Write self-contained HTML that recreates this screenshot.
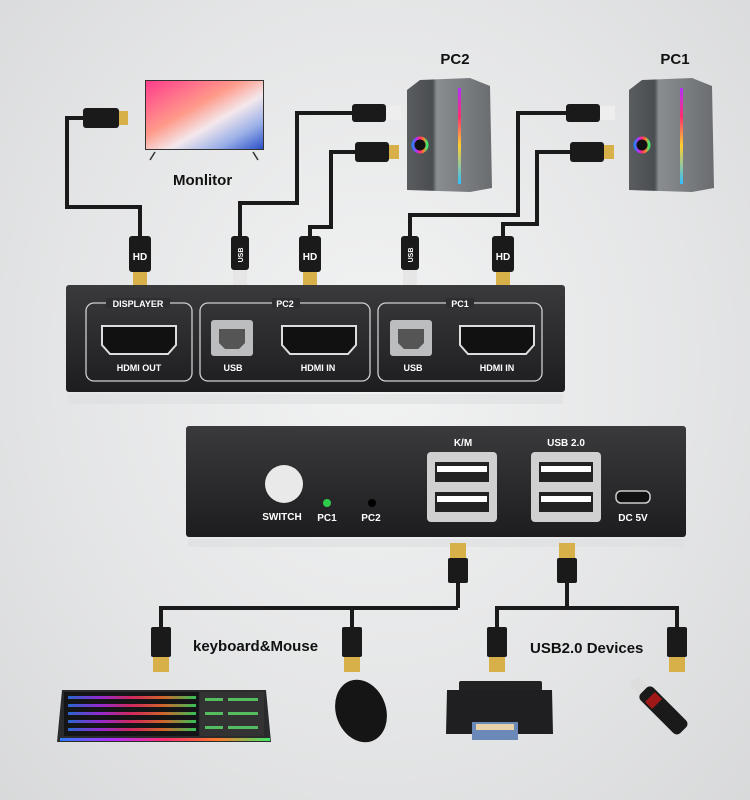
<!DOCTYPE html>
<html><head><meta charset="utf-8"><style>
html,body{margin:0;padding:0;}
body{width:750px;height:800px;overflow:hidden;background:radial-gradient(ellipse at 50% 45%,#f2f3f3 0%,#e4e5e6 60%,#d8d9da 100%);font-family:"Liberation Sans",sans-serif;}
svg{display:block}
</style></head><body>
<svg width="750" height="800" viewBox="0 0 750 800" xmlns="http://www.w3.org/2000/svg" font-family="Liberation Sans, sans-serif">
<defs>
<linearGradient id="scr" x1="0" y1="0" x2="1" y2="1"><stop offset="0" stop-color="#ff3c8c"/><stop offset="0.4" stop-color="#ff9a8a"/><stop offset="0.6" stop-color="#f4e8ec"/><stop offset="0.8" stop-color="#9bb0e8"/><stop offset="1" stop-color="#2a50c8"/></linearGradient>
<linearGradient id="tower" x1="0" y1="0" x2="1" y2="0"><stop offset="0" stop-color="#5a5d60"/><stop offset="0.3" stop-color="#4a4d50"/><stop offset="0.35" stop-color="#8a8d90"/><stop offset="1" stop-color="#6a6d70"/></linearGradient>
<linearGradient id="box" x1="0" y1="0" x2="0" y2="1"><stop offset="0" stop-color="#3a3a3c"/><stop offset="1" stop-color="#1d1d1f"/></linearGradient>
<linearGradient id="rgb" x1="0" y1="0" x2="1" y2="0"><stop offset="0" stop-color="#2e7cff"/><stop offset="0.25" stop-color="#b42eff"/><stop offset="0.5" stop-color="#ff2e6e"/><stop offset="0.75" stop-color="#ff7a2e"/><stop offset="1" stop-color="#3eea6a"/></linearGradient>
<linearGradient id="rgbv" x1="0" y1="0" x2="0" y2="1"><stop offset="0" stop-color="#b42eff"/><stop offset="0.3" stop-color="#ff2e6e"/><stop offset="0.6" stop-color="#ffd02e"/><stop offset="1" stop-color="#2ec0ff"/></linearGradient>
<g id="hdmi"><rect x="-11" y="0" width="22" height="36" rx="3" fill="#1a1a1a"/><rect x="-7" y="36" width="14" height="13" fill="#d8b04a"/><text x="0" y="24" font-size="10" font-weight="bold" fill="#fff" text-anchor="middle">HD</text></g>
<g id="usbc"><rect x="-9" y="0" width="18" height="34" rx="3" fill="#1a1a1a"/><rect x="-7" y="34" width="14" height="16" fill="#e6e6e6"/><text x="0" y="22" font-size="7" font-weight="bold" fill="#fff" text-anchor="middle" transform="rotate(-90 0 19)">USB</text></g>
<g id="usbA"><rect x="-8" y="0" width="16" height="15" fill="#d8b04a"/><rect x="-10" y="15" width="20" height="25" rx="2" fill="#1a1a1a"/></g>
<g id="usbAu"><rect x="-8" y="30" width="16" height="15" fill="#d8b04a"/><rect x="-10" y="0" width="20" height="30" rx="2" fill="#1a1a1a"/></g>
</defs>

<g fill="none" stroke="#1a1a1a" stroke-width="4">
<path d="M140,236 V207 H67 V118 H85"/>
<path d="M240,236 V203 H297 V113 H352"/>
<path d="M310,236 V227 H331 V152 H355"/>
<path d="M410,236 V215 H518 V113 H570"/>
<path d="M503,236 V224 H537 V152 H570"/>
</g>
<rect x="83" y="108" width="36" height="20" rx="3" fill="#1a1a1a"/><rect x="119" y="111" width="9" height="14" fill="#d8b04a"/>
<rect x="352" y="104" width="34" height="18" rx="3" fill="#1a1a1a"/><rect x="386" y="106" width="15" height="14" fill="#eee"/>
<rect x="355" y="142" width="34" height="20" rx="3" fill="#1a1a1a"/><rect x="389" y="145" width="10" height="14" fill="#d8b04a"/>
<rect x="566" y="104" width="34" height="18" rx="3" fill="#1a1a1a"/><rect x="600" y="106" width="15" height="14" fill="#eee"/>
<rect x="570" y="142" width="34" height="20" rx="3" fill="#1a1a1a"/><rect x="604" y="145" width="10" height="14" fill="#d8b04a"/>
<use href="#hdmi" x="140" y="236"/>
<use href="#usbc" x="240" y="236"/>
<use href="#hdmi" x="310" y="236"/>
<use href="#usbc" x="410" y="236"/>
<use href="#hdmi" x="503" y="236"/>

<rect x="145" y="80" width="119" height="70" fill="#333"/>
<rect x="146" y="81" width="117" height="68" fill="url(#scr)"/>
<path d="M150,160 L155,152 M258,160 L253,152" stroke="#333" stroke-width="1.5"/>
<text x="173" y="185" font-size="15" font-weight="bold" fill="#111">Monlitor</text>

<text x="455" y="64" font-size="15" font-weight="bold" fill="#111" text-anchor="middle">PC2</text>
<path d="M407,90 L420,80 L470,78 L490,86 L492,188 L470,192 L407,190 Z" fill="url(#tower)"/>
<rect x="458" y="88" width="3" height="96" fill="url(#rgbv)"/>
<circle cx="420" cy="145" r="7" fill="#111" stroke="url(#rgb)" stroke-width="3"/>
<text x="675" y="64" font-size="15" font-weight="bold" fill="#111" text-anchor="middle">PC1</text>
<path d="M629,90 L642,80 L692,78 L712,86 L714,188 L692,192 L629,190 Z" fill="url(#tower)"/>
<rect x="680" y="88" width="3" height="96" fill="url(#rgbv)"/>
<circle cx="642" cy="145" r="7" fill="#111" stroke="url(#rgb)" stroke-width="3"/>

<rect x="66" y="285" width="499" height="107" rx="3" fill="url(#box)"/>
<rect x="68" y="394" width="495" height="10" fill="#dcdddf" opacity="0.6"/>
<g fill="none" stroke="#cfcfcf" stroke-width="1.3">
<rect x="86" y="303" width="106" height="78" rx="8"/>
<rect x="200" y="303" width="170" height="78" rx="8"/>
<rect x="378" y="303" width="164" height="78" rx="8"/>
</g>
<g fill="#fff" font-size="9" font-weight="bold" text-anchor="middle">
<rect x="106" y="298" width="64" height="10" fill="#2e2e30"/><text x="138" y="307">DISPLAYER</text>
<rect x="272" y="298" width="28" height="10" fill="#2e2e30"/><text x="285" y="307">PC2</text>
<rect x="446" y="298" width="28" height="10" fill="#2e2e30"/><text x="460" y="307">PC1</text>
<text x="139" y="371">HDMI OUT</text><text x="233" y="371">USB</text><text x="318" y="371">HDMI IN</text>
<text x="413" y="371">USB</text><text x="497" y="371">HDMI IN</text>
</g>
<g fill="#111" stroke="#ddd" stroke-width="2">
<path d="M102,326 H176 V345 L168,354 H110 L102,345 Z"/>
<path d="M282,326 H356 V345 L348,354 H290 L282,345 Z"/>
<path d="M460,326 H534 V345 L526,354 H468 L460,345 Z"/>
</g>
<g fill="#bcbdbf"><rect x="211" y="320" width="42" height="36" rx="3"/><rect x="390" y="320" width="42" height="36" rx="3"/></g>
<g fill="#555"><path d="M219,329 h26 v14 l-6,6 h-14 l-6,-6z"/><path d="M398,329 h26 v14 l-6,6 h-14 l-6,-6z"/></g>

<rect x="186" y="426" width="500" height="111" rx="3" fill="url(#box)"/>
<rect x="188" y="539" width="496" height="8" fill="#dcdddf" opacity="0.6"/>
<circle cx="284" cy="484" r="19" fill="#e9e9e9"/>
<circle cx="327" cy="503" r="4" fill="#2ecc4a"/><circle cx="372" cy="503" r="4" fill="#000"/>
<g fill="#fff" font-size="10" font-weight="bold" text-anchor="middle">
<text x="282" y="520">SWITCH</text><text x="327" y="521">PC1</text><text x="371" y="521">PC2</text>
<text x="463" y="446">K/M</text><text x="566" y="446">USB 2.0</text><text x="633" y="521">DC 5V</text>
</g>
<g fill="#d0d0d0"><rect x="427" y="452" width="70" height="70" rx="4"/><rect x="531" y="452" width="70" height="70" rx="4"/></g>
<g fill="#222"><rect x="435" y="462" width="54" height="20"/><rect x="435" y="492" width="54" height="20"/><rect x="539" y="462" width="54" height="20"/><rect x="539" y="492" width="54" height="20"/></g>
<g fill="#fff"><rect x="437" y="466" width="50" height="6"/><rect x="437" y="496" width="50" height="6"/><rect x="541" y="466" width="50" height="6"/><rect x="541" y="496" width="50" height="6"/></g>
<rect x="616" y="491" width="34" height="12" rx="5" fill="#111" stroke="#ccc" stroke-width="1.5"/>

<g fill="none" stroke="#1a1a1a" stroke-width="4">
<path d="M458,580 V608"/><path d="M161,628 V608 H458"/><path d="M352,608 V628"/>
<path d="M567,580 V608"/><path d="M497,628 V608 H677 V628"/>
</g>
<use href="#usbA" x="458" y="543"/><use href="#usbA" x="567" y="543"/>
<use href="#usbAu" x="161" y="627"/><use href="#usbAu" x="352" y="627"/><use href="#usbAu" x="497" y="627"/><use href="#usbAu" x="677" y="627"/>
<text x="193" y="651" font-size="15" font-weight="bold" fill="#111">keyboard&amp;Mouse</text>
<text x="530" y="653" font-size="15" font-weight="bold" fill="#111">USB2.0 Devices</text>

<path d="M62,690 H266 L271,742 H57 Z" fill="#2a2b2d"/>
<rect x="64" y="692" width="135" height="44" fill="#151517"/>
<g opacity="0.8">
<rect x="68" y="696" width="128" height="3" fill="url(#rgb)"/><rect x="68" y="704" width="128" height="3" fill="url(#rgb)"/>
<rect x="68" y="712" width="128" height="3" fill="url(#rgb)"/><rect x="68" y="720" width="128" height="3" fill="url(#rgb)"/>
<rect x="68" y="728" width="128" height="3" fill="url(#rgb)"/>
</g>
<rect x="200" y="692" width="64" height="44" fill="#333"/>
<g fill="#5ee06a" opacity="0.8"><rect x="205" y="698" width="18" height="3"/><rect x="228" y="698" width="30" height="3"/><rect x="205" y="712" width="18" height="3"/><rect x="228" y="712" width="30" height="3"/><rect x="205" y="726" width="18" height="3"/><rect x="228" y="726" width="30" height="3"/></g>
<rect x="60" y="738" width="210" height="3" fill="url(#rgb)"/>
<ellipse cx="361" cy="711" rx="25" ry="32" fill="#151515" transform="rotate(-20 361 711)"/>
<rect x="459" y="681" width="83" height="14" rx="2" fill="#222"/>
<path d="M447,690 H552 L553,734 H446 Z" fill="#1f1f21"/>
<rect x="472" y="722" width="46" height="18" fill="#6a88b8"/><rect x="476" y="724" width="38" height="6" fill="#e8d0a8"/>
<g transform="rotate(45 662 709)"><rect x="636" y="700" width="56" height="18" rx="5" fill="#1a1a1a"/><rect x="645" y="702" width="10" height="14" fill="#a01818"/><rect x="622" y="703" width="14" height="12" fill="#ddd"/></g>
</svg>
</body></html>
